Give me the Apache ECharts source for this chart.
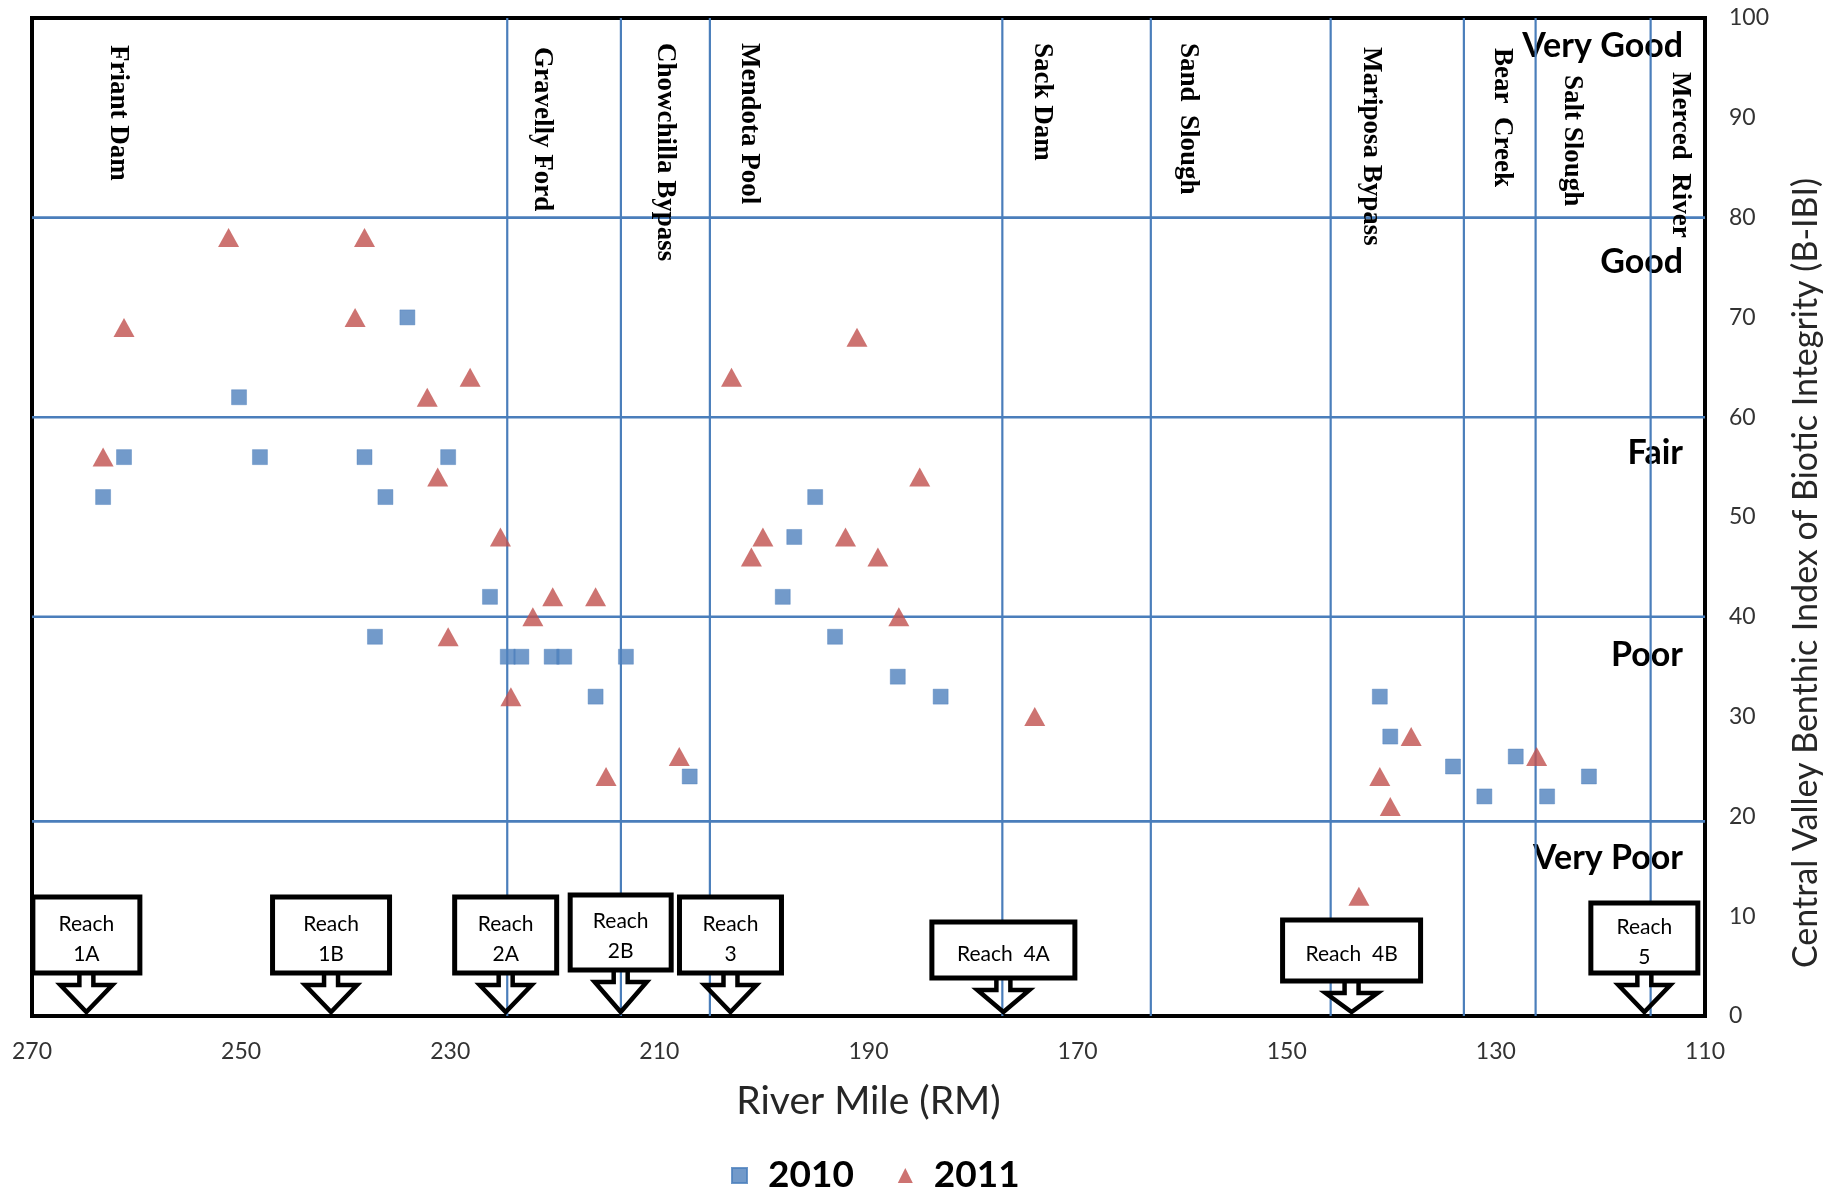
<!DOCTYPE html>
<html><head><meta charset="utf-8">
<script src="https://cdn.jsdelivr.net/npm/echarts@6/dist/echarts.min.js"></script>
<style>html,body{margin:0;padding:0;background:#fff}#c{width:1848px;height:1191px}</style>
</head><body><div id="c"></div>
<script>
// ---------------- data ----------------
const years = ['2010', '2011'];
const rm2010 = [263.2, 261.2, 250.2, 248.2, 238.2, 236.2, 234.1, 230.2, 237.2, 226.2, 224.5, 223.2, 220.3, 219.1, 216.1, 213.2, 207.1, 198.2, 197.1, 195.1, 193.2, 187.2, 183.1, 141.1, 140.1, 134.1, 131.1, 128.1, 125.1, 121.1];
const bibi2010 = [52, 56, 62, 56, 56, 52, 70, 56, 38, 42, 36, 36, 36, 36, 32, 36, 24, 42, 48, 52, 38, 34, 32, 32, 28, 25, 22, 26, 22, 24];
const rm2011 = [263.2, 261.2, 251.2, 238.2, 239.1, 232.2, 228.1, 231.2, 230.2, 225.2, 222.1, 224.2, 220.2, 216.1, 215.1, 208.1, 203.1, 201.2, 200.1, 191.1, 192.2, 189.1, 185.1, 187.1, 174.1, 143.1, 141.1, 140.1, 138.1, 126.1];
const bibi2011 = [56, 69, 78, 78, 70, 62, 64, 54, 38, 48, 40, 32, 42, 42, 24, 26, 64, 46, 48, 68, 48, 46, 54, 40, 30, 12, 24, 21, 28, 26];

const xTickLabels = [270, 250, 230, 210, 190, 170, 150, 130, 110];
const yTickLabels = [0, 10, 20, 30, 40, 50, 60, 70, 80, 90, 100];
const xTitle = 'River Mile (RM)';
const yTitle = 'Central Valley Benthic Index of Biotic Integrity (B-IBI)';

const conditionClasses = ['Very Good', 'Good', 'Fair', 'Poor', 'Very Poor'];
const classBoundaries = [80, 60, 40, 19.5];

const landmarkLineRM = [224.55, 213.68, 205.17, 177.2, 163.0, 145.8, 133.06, 126.2, 115.2];
const landmarkNames = ['Friant Dam', 'Gravelly Ford', 'Chowchilla Bypass', 'Mendota Pool', 'Sack Dam', 'Sand  Slough', 'Mariposa Bypass', 'Bear  Creek', 'Salt Slough', 'Merced  River'];
const landmarkLabelRM = [261.8, 221.25, 209.5, 201.4, 173.4, 159.4, 141.9, 129.4, 122.7, 112.4];

const reachNames = ['Reach\n1A', 'Reach\n1B', 'Reach\n2A', 'Reach\n2B', 'Reach\n3', 'Reach  4A', 'Reach  4B', 'Reach\n5'];
const reachRM = [264.8, 241.4, 224.7, 213.7, 203.2, 177.1, 143.8, 115.8];

// ---------------- layout / style ----------------
const LAYOUT = {
  labelTop: [97.3, 97.1, 97.5, 97.5, 97.5, 97.5, 97.1, 97.0, 94.3, 94.6],
  classLabelY: [97.2, 75.5, 56.4, 36.2, 15.8],
  // [width, top offset above axis, bottom offset above axis]
  reachBox: [[107,119,43],[117,119,43],[102,119,43],[101,121,46],[102,119,43],[143,94,38],[138,96,35],[107,113,43]],
  yTitleOffset: 101,
  yTitleStart: 48
};
const BLUE = '#4F81BD', RED = '#C0504D', LINE = '#4A7EBB';
const SANS = 'Lato', SERIF = '"Liberation Serif", "Times New Roman", serif';

const chart = echarts.init(document.getElementById('c'), null, {renderer: 'canvas'});

function renderVLine(params, api) {
  const a = api.coord([api.value(0), 0]);
  const b = api.coord([api.value(0), 100]);
  return {type: 'line', shape: {x1: a[0], y1: a[1], x2: b[0], y2: b[1]}, style: {stroke: LINE, lineWidth: 2.2}};
}
function renderHLine(params, api) {
  const a = api.coord([270, api.value(1)]);
  const b = api.coord([110, api.value(1)]);
  return {type: 'line', shape: {x1: a[0], y1: a[1], x2: b[0], y2: b[1]}, style: {stroke: LINE, lineWidth: 2.6}};
}
function renderClass(params, api) {
  const i = params.dataIndex;
  const p = api.coord([110, LAYOUT.classLabelY[i]]);
  return {type: 'text', x: p[0] - 22, y: p[1], style: {text: conditionClasses[i], fontFamily: SANS, fontWeight: 'bold', fontSize: 34, fill: '#000', align: 'right', verticalAlign: 'middle'}};
}
function renderLandmark(params, api) {
  const i = params.dataIndex;
  const p = api.coord([landmarkLabelRM[i], LAYOUT.labelTop[i]]);
  return {type: 'text', x: p[0], y: p[1], rotation: -Math.PI / 2,
    style: {text: landmarkNames[i], fontFamily: SERIF, fontWeight: 'bold', fontSize: 27, fill: '#000', align: 'left', verticalAlign: 'middle'}};
}
function renderYTitle(params, api) {
  const p = api.coord([110, 0]);
  return {type: 'text', x: p[0] + LAYOUT.yTitleOffset, y: p[1] - LAYOUT.yTitleStart, rotation: Math.PI / 2,
    style: {text: yTitle, fontFamily: SANS, fontSize: 34, fill: '#262626', align: 'left', verticalAlign: 'middle'}};
}
function renderReach(params, api) {
  const i = params.dataIndex;
  const p = api.coord([reachRM[i], 0]);
  const cx = p[0], base = p[1];
  const w = LAYOUT.reachBox[i][0];
  const top = base - LAYOUT.reachBox[i][1], bot = base - LAYOUT.reachBox[i][2];
  const headTop = bot + 12, tip = base - 4, sh = 7, hh = 26;
  return {type: 'group', children: [
    {type: 'polyline', shape: {points: [[cx - sh, bot], [cx - sh, headTop], [cx - hh, headTop], [cx, tip], [cx + hh, headTop], [cx + sh, headTop], [cx + sh, bot]]},
      style: {stroke: '#000', lineWidth: 4.5, fill: null, lineJoin: 'miter'}},
    {type: 'rect', shape: {x: cx - w / 2, y: top, width: w, height: bot - top}, style: {fill: '#fff', stroke: '#000', lineWidth: 5}},
    {type: 'text', x: cx, y: (top + bot) / 2 + 4, style: {text: reachNames[i], fontFamily: SANS, fontSize: 21, fill: '#000', align: 'center', verticalAlign: 'middle', lineHeight: 30}}
  ]};
}

const option = {
  animation: false,
  backgroundColor: '#fff',
  grid: {left: 32, right: 143, top: 18, bottom: 175, show: true, borderColor: '#000', borderWidth: 4, backgroundColor: '#fff'},
  legend: {
    data: years, left: 726, top: 1152, itemWidth: 15, itemHeight: 15, itemGap: 44,
    textStyle: {fontFamily: SANS, fontWeight: 'bold', fontSize: 37, color: '#000', padding: [0, 0, 0, 16]}
  },
  xAxis: {
    type: 'value', min: 110, max: 270, interval: 20, inverse: true,
    name: xTitle, nameLocation: 'middle', nameGap: 66,
    nameTextStyle: {fontFamily: SANS, fontSize: 39, color: '#262626'},
    axisLine: {show: false}, axisTick: {show: false}, splitLine: {show: false},
    axisLabel: {fontFamily: SANS, fontSize: 23, color: '#333', margin: 24, customValues: xTickLabels}
  },
  yAxis: {
    type: 'value', position: 'right', min: 0, max: 100, interval: 10,
    axisLine: {show: false}, axisTick: {show: false}, splitLine: {show: false},
    axisLabel: {fontFamily: SANS, fontSize: 23, color: '#333', margin: 24, customValues: yTickLabels}
  },
  series: [
    {type: 'custom', name: 'classes', z: 1, silent: true, renderItem: renderClass, data: conditionClasses.map(() => [110, 50])},
    {type: 'custom', name: 'hlines', z: 2, silent: true, renderItem: renderHLine, data: classBoundaries.map(v => [270, v])},
    {type: 'custom', name: 'vlines', z: 2, silent: true, renderItem: renderVLine, data: landmarkLineRM.map(v => [v, 0])},
    {type: 'scatter', name: '2010', z: 3, symbol: 'rect', symbolSize: 15, itemStyle: {color: BLUE, borderColor: '#4A7EBB', borderWidth: 0.5},
      data: rm2010.map((x, i) => [x, bibi2010[i]])},
    {type: 'scatter', name: '2011', z: 3, symbol: 'triangle', symbolSize: [21, 19], itemStyle: {color: RED},
      data: rm2011.map((x, i) => [x, bibi2011[i]])},
    {type: 'custom', name: 'landmarks', z: 4, silent: true, renderItem: renderLandmark, data: landmarkLabelRM.map(v => [v, 50])},
    {type: 'custom', name: 'reaches', z: 4, silent: true, renderItem: renderReach, data: reachRM.map(v => [v, 0])},
    {type: 'custom', name: 'ytitle', z: 4, silent: true, renderItem: renderYTitle, data: [[110, 0]]}
  ]
};
chart.setOption(option);
</script>
</body></html>
